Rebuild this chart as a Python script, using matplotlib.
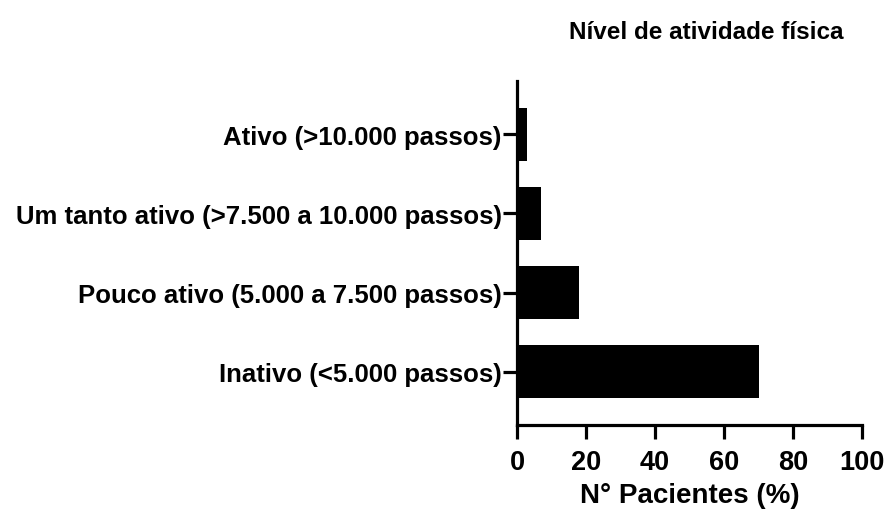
import matplotlib.pyplot as plt

# data (bottom to top)
categories = ['Inativo (<5.000 passos)',
              'Pouco ativo (5.000 a 7.500 passos)',
              'Um tanto ativo (>7.500 a 10.000 passos)',
              'Ativo (>10.000 passos)']
values = [70, 18, 7, 3]
xticks = [0, 20, 40, 60, 80, 100]

plt.rcParams['font.family'] = ['Liberation Sans', 'DejaVu Sans']
plt.rcParams['font.weight'] = 'bold'

fig = plt.figure(figsize=(8.84, 5.10), dpi=100)
ax = fig.add_axes([517/884, 1 - 426/510, (862 - 517)/884, (426 - 82)/510])

pos = list(range(len(categories)))
ax.barh(pos, values, height=0.67, color='black')

ax.set_xlim(0, 100)
ax.set_ylim(-0.67, len(categories) - 1 + 0.67)
ax.set_xticks(xticks)
ax.set_yticks(pos)
ax.set_yticklabels(categories)

for s in ['top', 'right']:
    ax.spines[s].set_visible(False)
for s in ['left', 'bottom']:
    ax.spines[s].set_linewidth(2.3)
ax.tick_params(axis='both', width=2.3, length=10)
ax.tick_params(axis='y', labelsize=18.5, pad=1)
ax.tick_params(axis='x', labelsize=19.5, pad=7)

ax.set_xlabel('N° Pacientes (%)', fontsize=20, fontweight='bold', labelpad=5)
ax.set_title('Nível de atividade física', fontsize=17.5, fontweight='bold',
             pad=31, x=0.548)

fig.savefig('out.png', dpi=100)
